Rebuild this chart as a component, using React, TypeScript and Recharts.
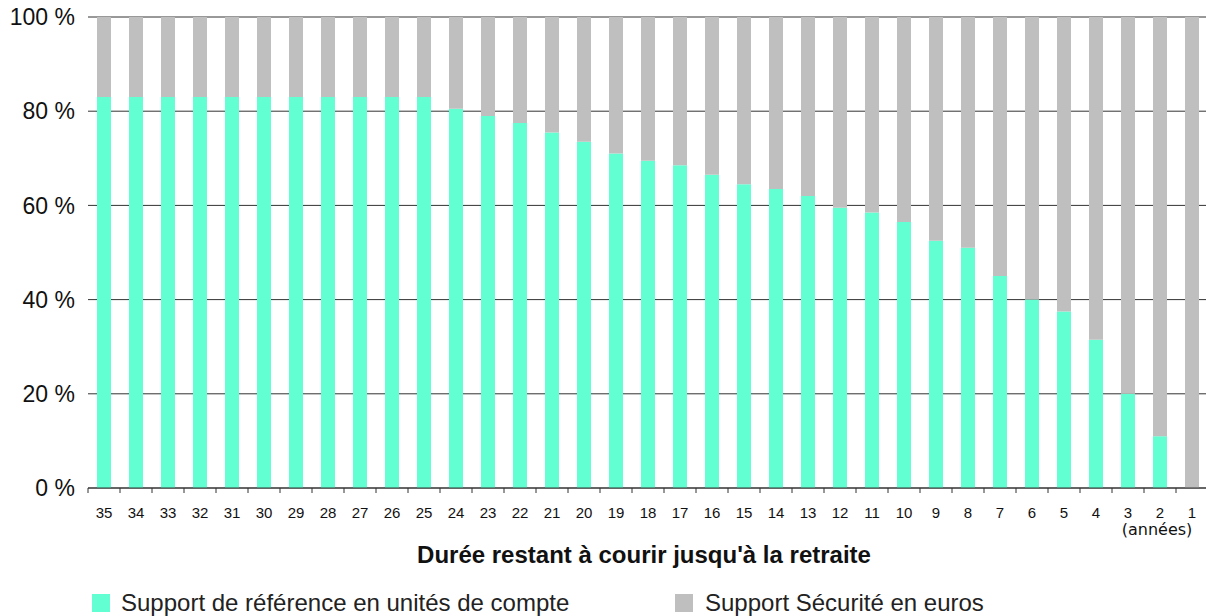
import React from 'react';
import { BarChart, Bar, XAxis, YAxis, CartesianGrid } from 'recharts';

const categories = ['35','34','33','32','31','30','29','28','27','26','25','24','23','22','21','20','19','18','17','16','15','14','13','12','11','10','9','8','7','6','5','4','3','2','1'];
const uniteCompte = [83,83,83,83,83,83,83,83,83,83,83,80.5,79,77.5,75.5,73.5,71,69.5,68.5,66.5,64.5,63.5,62,59.5,58.5,56.5,52.5,51,45,40,37.5,31.5,20,11,0];
const securiteEuros = [17,17,17,17,17,17,17,17,17,17,17,19.5,21,22.5,24.5,26.5,29,30.5,31.5,33.5,35.5,36.5,38,40.5,41.5,43.5,47.5,49,55,60,62.5,68.5,80,89,100];
const yTicks = [0, 20, 40, 60, 80, 100];
const seriesNames = ['Support de référence en unités de compte', 'Support Sécurité en euros'];
const axisTitle = "Durée restant à courir jusqu'à la retraite";
const unitLabel = '(années)';

const data = categories.map((c, i) => ({ cat: c, uc: uniteCompte[i], eur: securiteEuros[i] }));

const CHART_W = 1210;
const CHART_H = 616;
const Y_W = 88;
const PLOT_W = CHART_W - Y_W - 2;
const HALF_BAND = PLOT_W / categories.length / 2;

const GREEN = '#62FFD3';
const GRAY = '#BFBFBF';
const FONT = '"Liberation Sans", Arial, Helvetica, sans-serif';

const XTick = (props: any) => {
  const { x, y, payload } = props;
  return (
    <g>
      <line x1={x - HALF_BAND} x2={x - HALF_BAND} y1={y - 8} y2={y - 3} stroke="#333" strokeWidth={1} />
      <text x={x} y={y + 22} textAnchor="middle" fontSize={15} fill="#111" fontFamily={FONT}>{payload.value}</text>
      {payload.value === '2' ? (
        <text x={x - 3} y={y + 39} textAnchor="middle" fontSize={16} fill="#111" fontFamily='"DejaVu Sans", sans-serif'>{unitLabel}</text>
      ) : null}
    </g>
  );
};

export default function App() {
  return (
    <div style={{ position: 'absolute', left: 0, top: 0, width: 1206, height: 616, overflow: 'hidden', background: '#fff' }}>
      <BarChart width={CHART_W} height={CHART_H} data={data} margin={{ top: 17, right: 2, bottom: 98, left: 0 }} barSize={14}>
        <CartesianGrid horizontal vertical={false} stroke="#333" strokeOpacity={1} />
        <XAxis dataKey="cat" height={30} tickLine={false} axisLine={{ stroke: '#333' }} tick={<XTick />} interval={0} />
        <YAxis width={Y_W} domain={[0, 100]} ticks={yTicks} tickLine={false} axisLine={false} tickMargin={7}
          tickFormatter={(v: number) => `${v} %`}
          tick={{ fontSize: 23, fill: '#111', fontFamily: FONT }} />
        <Bar dataKey="uc" name={seriesNames[0]} stackId="a" fill={GREEN} isAnimationActive={false} />
        <Bar dataKey="eur" name={seriesNames[1]} stackId="a" fill={GRAY} isAnimationActive={false} />
      </BarChart>
      <svg width={1206} height={616} style={{ position: 'absolute', left: 0, top: 0, pointerEvents: 'none' }}>
        <text x={644} y={563} textAnchor="middle" fontFamily={FONT} fontWeight="bold" fontSize={24} fill="#111">{axisTitle}</text>
        <rect x={92} y={594} width={18} height={18} fill={GREEN} />
        <text x={121} y={611} fontFamily={FONT} fontSize={24} fill="#222">{seriesNames[0]}</text>
        <rect x={675} y={594} width={18} height={18} fill={GRAY} />
        <text x={705} y={611} fontFamily={FONT} fontSize={24} fill="#222">{seriesNames[1]}</text>
      </svg>
    </div>
  );
}
